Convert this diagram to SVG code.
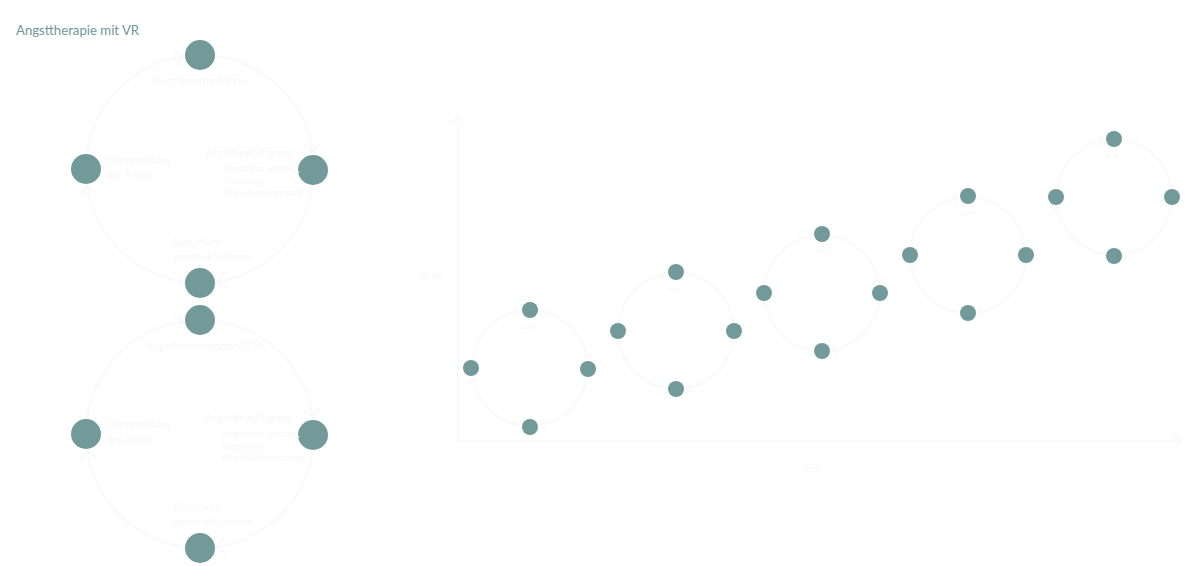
<svg xmlns="http://www.w3.org/2000/svg" width="1200" height="566" viewBox="0 0 1200 566">
<style>
.node{fill:#739a9a}
.ring{fill:none;stroke:#fafafa;stroke-width:2.5}
.axis{fill:none;stroke:#fafafa;stroke-width:2}
.faint{font-family:Lato,"Open Sans",sans-serif;fill:#f8f8f8}
.title{font-family:Lato,"Open Sans",sans-serif;font-size:13.2px;fill:#6f9797}
</style>
<defs>
<marker id="arrBig" markerWidth="16" markerHeight="18" refX="9" refY="9" orient="auto" markerUnits="userSpaceOnUse">
<path d="M1,1 L9,9 L1,17" fill="none" stroke="#f8f8f8" stroke-width="2"/>
</marker>
<marker id="arrSmall" markerWidth="10" markerHeight="12" refX="6" refY="6" orient="auto" markerUnits="userSpaceOnUse">
<path d="M1,1 L6,6 L1,11" fill="none" stroke="#f8f8f8" stroke-width="1.5"/>
</marker>
<marker id="arrAxis" markerWidth="14" markerHeight="18" refX="9" refY="9" orient="auto" markerUnits="userSpaceOnUse">
<path d="M1,1 L9,9 L1,17" fill="none" stroke="#fafafa" stroke-width="2"/>
</marker>
</defs>
<rect width="1200" height="566" fill="#ffffff"/>
<text class="title" x="16" y="35">Angsttherapie mit VR</text>

<g id="connectors">
<g transform="translate(200,169)">
<path class="ring" marker-end="url(#arrBig)" d="M16.85,-112.75 A114 114 0 0 1 112.75,-16.85"/>
<path class="ring" marker-end="url(#arrBig)" d="M112.75,16.85 A114 114 0 0 1 16.85,112.75"/>
<path class="ring" marker-end="url(#arrBig)" d="M-16.85,112.75 A114 114 0 0 1 -112.75,16.85"/>
<path class="ring" marker-end="url(#arrBig)" d="M-112.75,-16.85 A114 114 0 0 1 -16.85,-112.75"/>
</g>
<g transform="translate(200,434)">
<path class="ring" marker-end="url(#arrBig)" d="M16.85,-112.75 A114 114 0 0 1 112.75,-16.85"/>
<path class="ring" marker-end="url(#arrBig)" d="M112.75,16.85 A114 114 0 0 1 16.85,112.75"/>
<path class="ring" marker-end="url(#arrBig)" d="M-16.85,112.75 A114 114 0 0 1 -112.75,16.85"/>
<path class="ring" marker-end="url(#arrBig)" d="M-112.75,-16.85 A114 114 0 0 1 -16.85,-112.75"/>
</g>
<path class="axis" marker-end="url(#arrAxis)" d="M458,441 L458,117"/>
<path class="axis" marker-end="url(#arrAxis)" d="M458,441 L1181,441"/>
<g transform="translate(530,368)">
<path class="ring" marker-end="url(#arrSmall)" d="M10,-57.13 A58 58 0 0 1 57.13,-10"/>
<path class="ring" marker-end="url(#arrSmall)" d="M57.13,10 A58 58 0 0 1 10,57.13"/>
<path class="ring" marker-end="url(#arrSmall)" d="M-10,57.13 A58 58 0 0 1 -57.13,10"/>
<path class="ring" marker-end="url(#arrSmall)" d="M-57.13,-10 A58 58 0 0 1 -10,-57.13"/>
</g>
<g transform="translate(676,331)">
<path class="ring" marker-end="url(#arrSmall)" d="M10,-57.13 A58 58 0 0 1 57.13,-10"/>
<path class="ring" marker-end="url(#arrSmall)" d="M57.13,10 A58 58 0 0 1 10,57.13"/>
<path class="ring" marker-end="url(#arrSmall)" d="M-10,57.13 A58 58 0 0 1 -57.13,10"/>
<path class="ring" marker-end="url(#arrSmall)" d="M-57.13,-10 A58 58 0 0 1 -10,-57.13"/>
</g>
<g transform="translate(822,293)">
<path class="ring" marker-end="url(#arrSmall)" d="M10,-57.13 A58 58 0 0 1 57.13,-10"/>
<path class="ring" marker-end="url(#arrSmall)" d="M57.13,10 A58 58 0 0 1 10,57.13"/>
<path class="ring" marker-end="url(#arrSmall)" d="M-10,57.13 A58 58 0 0 1 -57.13,10"/>
<path class="ring" marker-end="url(#arrSmall)" d="M-57.13,-10 A58 58 0 0 1 -10,-57.13"/>
</g>
<g transform="translate(968,255)">
<path class="ring" marker-end="url(#arrSmall)" d="M10,-57.13 A58 58 0 0 1 57.13,-10"/>
<path class="ring" marker-end="url(#arrSmall)" d="M57.13,10 A58 58 0 0 1 10,57.13"/>
<path class="ring" marker-end="url(#arrSmall)" d="M-10,57.13 A58 58 0 0 1 -57.13,10"/>
<path class="ring" marker-end="url(#arrSmall)" d="M-57.13,-10 A58 58 0 0 1 -10,-57.13"/>
</g>
<g transform="translate(1114,197)">
<path class="ring" marker-end="url(#arrSmall)" d="M10,-57.13 A58 58 0 0 1 57.13,-10"/>
<path class="ring" marker-end="url(#arrSmall)" d="M57.13,10 A58 58 0 0 1 10,57.13"/>
<path class="ring" marker-end="url(#arrSmall)" d="M-10,57.13 A58 58 0 0 1 -57.13,10"/>
<path class="ring" marker-end="url(#arrSmall)" d="M-57.13,-10 A58 58 0 0 1 -10,-57.13"/>
</g>
</g>

<g id="cycle1">
<g id="c1-top"><circle class="node" cx="200" cy="55" r="15"/><text class="faint" x="200" y="85" font-size="11" text-anchor="middle">Angstkonfrontation</text></g>
<g id="c1-right"><circle class="node" cx="313" cy="170" r="15"/><text class="faint" x="292" y="157" font-size="11" text-anchor="end">Angstbewältigung</text>
<text class="faint" x="222" y="172" font-size="9">(kognitives Training,</text><text class="faint" x="222" y="184" font-size="9">Ablenkung,</text><text class="faint" x="222" y="196" font-size="9">Muskelentspannung)</text></g>
<g id="c1-bottom"><circle class="node" cx="200" cy="283" r="15"/><text class="faint" x="173" y="246" font-size="11">Gedanken</text><text class="faint" x="173" y="261" font-size="11">umstrukturieren</text></g>
<g id="c1-left"><circle class="node" cx="86" cy="169" r="15"/><text class="faint" x="106" y="164" font-size="11">Überwindung</text><text class="faint" x="106" y="178" font-size="11">der Angst</text></g>
</g>

<g id="cycle2">
<g id="c2-top"><circle class="node" cx="200" cy="320" r="15"/><text class="faint" x="204" y="350" font-size="11" text-anchor="middle">Angstkonfrontation (VR)</text></g>
<g id="c2-right"><circle class="node" cx="313" cy="435" r="15"/><text class="faint" x="292" y="422" font-size="11" text-anchor="end">Angstbewältigung</text>
<text class="faint" x="222" y="437" font-size="9">(kognitives Training,</text><text class="faint" x="222" y="449" font-size="9">integrierte</text><text class="faint" x="222" y="461" font-size="9">Muskelentspannung)</text></g>
<g id="c2-bottom"><circle class="node" cx="200" cy="548" r="15"/><text class="faint" x="173" y="511" font-size="11">Gedanken</text><text class="faint" x="173" y="526" font-size="11">umstrukturieren</text></g>
<g id="c2-left"><circle class="node" cx="86" cy="434" r="15"/><text class="faint" x="106" y="428" font-size="11">Überwindung</text><text class="faint" x="106" y="443" font-size="11">der Angst</text></g>
</g>

<g id="axis-labels">
<text class="faint" x="420" y="279" font-size="10">Stufe</text>
<text class="faint" x="803" y="472" font-size="11">Zeit</text>
</g>

<g id="stage1"><circle class="node" cx="530" cy="310" r="8"/><circle class="node" cx="588" cy="369" r="8"/><circle class="node" cx="530" cy="427" r="8"/><circle class="node" cx="471" cy="368" r="8"/><text class="faint" x="530" y="329" font-size="5.5" text-anchor="middle">Stufe 1</text></g>
<g id="stage2"><circle class="node" cx="676" cy="272" r="8"/><circle class="node" cx="734" cy="331" r="8"/><circle class="node" cx="676" cy="389" r="8"/><circle class="node" cx="618" cy="331" r="8"/><text class="faint" x="676" y="291" font-size="5.5" text-anchor="middle">Stufe 2</text></g>
<g id="stage3"><circle class="node" cx="822" cy="234" r="8"/><circle class="node" cx="880" cy="293" r="8"/><circle class="node" cx="822" cy="351" r="8"/><circle class="node" cx="764" cy="293" r="8"/><text class="faint" x="822" y="253" font-size="5.5" text-anchor="middle">Stufe 3</text></g>
<g id="stage4"><circle class="node" cx="968" cy="196" r="8"/><circle class="node" cx="1026" cy="255" r="8"/><circle class="node" cx="968" cy="313" r="8"/><circle class="node" cx="910" cy="255" r="8"/><text class="faint" x="968" y="215" font-size="5.5" text-anchor="middle">Stufe 4</text></g>
<g id="stage5"><circle class="node" cx="1114" cy="139" r="8"/><circle class="node" cx="1172" cy="197" r="8"/><circle class="node" cx="1114" cy="256" r="8"/><circle class="node" cx="1056" cy="197" r="8"/><text class="faint" x="1114" y="158" font-size="5.5" text-anchor="middle">Stufe 5</text></g>
</svg>
